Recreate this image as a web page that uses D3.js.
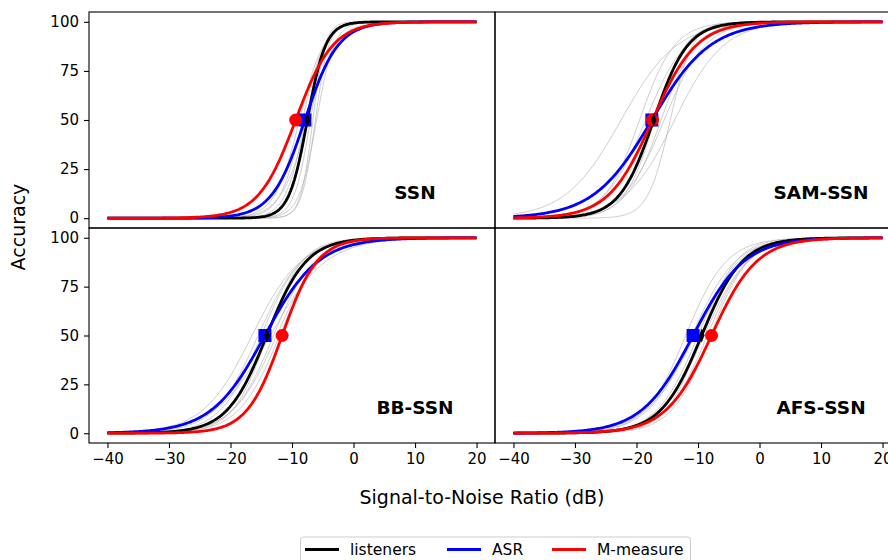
<!DOCTYPE html>
<html><head><meta charset="utf-8">
<script src="https://cdn.jsdelivr.net/npm/d3@7"></script>
<style>body{margin:0;background:#fff} text{font-family:"DejaVu Sans",sans-serif;fill:#000}</style>
</head><body><svg id="c" width="888" height="560"></svg>
<script>
// ---- data ----
const panels = ["SSN", "SAM-SSN", "BB-SSN", "AFS-SSN"];
const seriesNames = ["listeners", "ASR", "M-measure"];
const seriesColors = ["#000000", "#0000ff", "#ff0000"];
// fitted psychometric functions: 50% point (dB) and slope per panel
const listenersSRT = [-7.5, -17.2, -14.1, -9.4];
const listenersSlope = [0.67, 0.36, 0.31, 0.30];
const asrSRT = [-7.9, -17.5, -14.4, -10.8];
const asrSlope = [0.37, 0.21, 0.23, 0.24];
const mmeasureSRT = [-9.4, -17.4, -11.6, -7.8];
const mmeasureSlope = [0.33, 0.28, 0.35, 0.27];
// individual listeners (gray)
const individualSRT = [
  [-6.2, -6.6, -7.0, -7.8, -8.3, -8.8, -7.4, -6.0],
  [-22.5, -14.5, -13.8, -16.0, -18.5, -17.0, -15.5, -19.5],
  [-16.5, -15.5, -15.0, -14.0, -13.0, -12.5, -12.0, -13.5],
  [-12.0, -11.0, -10.0, -9.5, -8.5, -8.0, -9.0, -10.5]
];
const individualSlope = [
  [0.9, 1.0, 0.75, 0.6, 0.55, 0.5, 0.45, 0.7],
  [0.22, 0.55, 0.25, 0.35, 0.3, 0.4, 0.3, 0.35],
  [0.25, 0.28, 0.3, 0.35, 0.3, 0.28, 0.3, 0.22],
  [0.3, 0.28, 0.3, 0.35, 0.3, 0.32, 0.28, 0.25]
];
const snrRange = [-40, 20];
const xTicks = [-40, -30, -20, -10, 0, 10, 20];
const yTicks = [0, 25, 50, 75, 100];

// ---- layout ----
const svg = d3.select("#c");
const colX = [89, 495], rowY = [[12, 228], [228, 443]], pw = 406;
const psy = (x, m, k) => 100 / (1 + Math.exp(-k * (x - m)));
const grid = d3.range(snrRange[0], snrRange[1] + 0.001, 0.2);

panels.forEach((name, i) => {
  const c = i % 2, r = Math.floor(i / 2);
  const x = d3.scaleLinear().domain([-43, 23]).range([colX[c], colX[c] + pw]);
  const y = d3.scaleLinear().domain([-5, 105]).range([rowY[r][1], rowY[r][0]]);
  const g = svg.append("g");
  const clipId = "clip" + i;
  svg.append("clipPath").attr("id", clipId).append("rect")
    .attr("x", colX[c]).attr("y", rowY[r][0]).attr("width", pw).attr("height", rowY[r][1] - rowY[r][0]);
  const plot = g.append("g").attr("clip-path", `url(#${clipId})`);
  const line = (m, k) => d3.line().x(d => x(d)).y(d => y(psy(d, m, k)))(grid);

  individualSRT[i].forEach((m, j) => {
    plot.append("path").attr("d", line(m, individualSlope[i][j]))
      .attr("fill", "none").attr("stroke", "#b4b4b4").attr("stroke-opacity", 0.75).attr("stroke-width", 0.9);
  });
  const mains = [[listenersSRT, listenersSlope], [asrSRT, asrSlope], [mmeasureSRT, mmeasureSlope]];
  mains.forEach(([m, k], s) => {
    plot.append("path").attr("d", line(m[i], k[i]))
      .attr("fill", "none").attr("stroke", seriesColors[s]).attr("stroke-width", 2.8);
  });
  // markers at 50%
  plot.append("rect").attr("x", x(asrSRT[i]) - 6.5).attr("y", y(50) - 6.5)
    .attr("width", 13).attr("height", 13).attr("fill", seriesColors[1]);
  plot.append("circle").attr("cx", x(mmeasureSRT[i])).attr("cy", y(50)).attr("r", 6.5).attr("fill", seriesColors[2]);
  const bx = x(listenersSRT[i]), by = y(50);
  plot.append("path").attr("d", `M${bx},${by - 7}L${bx + 2.8},${by}L${bx},${by + 7}L${bx - 2.8},${by}Z`)
    .attr("fill", seriesColors[0]);

  // panel label
  g.append("text").attr("x", x(10)).attr("y", y(13)).attr("text-anchor", "middle")
    .attr("dominant-baseline", "central").attr("font-size", 18.5).attr("font-weight", "bold").text(name);

  // frame
  g.append("rect").attr("x", colX[c]).attr("y", rowY[r][0]).attr("width", pw)
    .attr("height", rowY[r][1] - rowY[r][0]).attr("fill", "none").attr("stroke", "#000").attr("stroke-width", 1.1);

  if (c === 0) {
    const ax = g.append("g").attr("transform", `translate(${colX[c]},0)`)
      .call(d3.axisLeft(y).tickValues(yTicks).tickSize(5).tickPadding(5).tickFormat(d3.format("d")));
    ax.select(".domain").remove();
    ax.selectAll("line").attr("stroke", "#000").attr("stroke-width", 1.1);
    ax.selectAll("text").attr("font-size", 15).attr("font-family", "DejaVu Sans");
  }
  if (r === 1) {
    const ax = g.append("g").attr("transform", `translate(0,${rowY[r][1]})`)
      .call(d3.axisBottom(x).tickValues(xTicks).tickSize(5).tickPadding(5)
        .tickFormat(d => d < 0 ? "\u2212" + Math.abs(d) : String(d)));
    ax.select(".domain").remove();
    ax.selectAll("line").attr("stroke", "#000").attr("stroke-width", 1.1);
    ax.selectAll("text").attr("font-size", 15).attr("font-family", "DejaVu Sans");
  }
});

// axis titles
svg.append("text").attr("transform", "translate(25,227) rotate(-90)").attr("text-anchor", "middle")
  .attr("font-size", 19).text("Accuracy");
svg.append("text").attr("x", 482).attr("y", 504).attr("text-anchor", "middle")
  .attr("font-size", 19).text("Signal-to-Noise Ratio (dB)");

// legend
const leg = svg.append("g");
leg.append("rect").attr("x", 300.5).attr("y", 537).attr("width", 390).attr("height", 40).attr("rx", 3)
  .attr("fill", "#fff").attr("stroke", "#cccccc").attr("stroke-width", 1);
const legX = [305, 447, 552];
seriesNames.forEach((s, i) => {
  leg.append("line").attr("x1", legX[i]).attr("x2", legX[i] + 34).attr("y1", 549.5).attr("y2", 549.5)
    .attr("stroke", seriesColors[i]).attr("stroke-width", 2.8);
  leg.append("text").attr("x", legX[i] + 45).attr("y", 555).attr("font-size", 15.5).text(s);
});
</script></body></html>
